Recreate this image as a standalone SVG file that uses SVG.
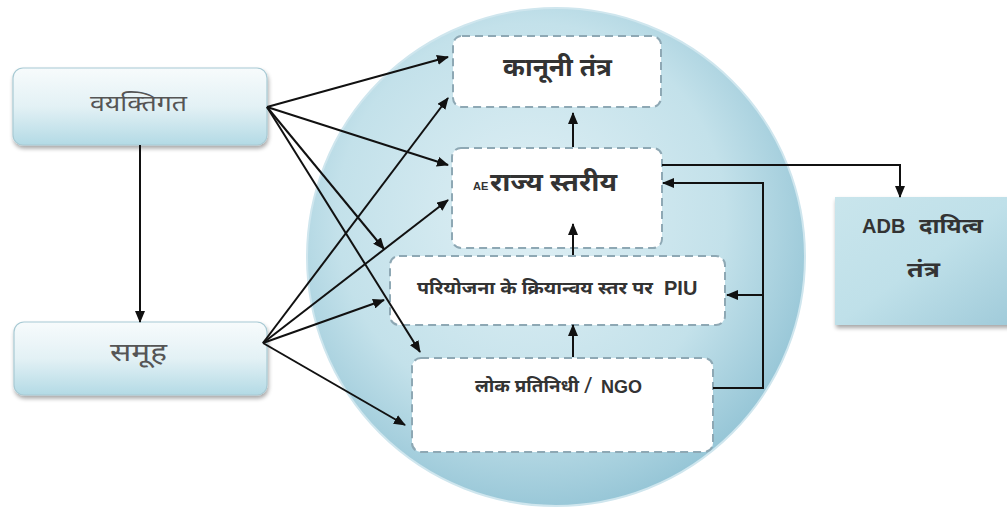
<svg xmlns="http://www.w3.org/2000/svg" width="1007" height="516" viewBox="0 0 1007 516">
  <defs>
    <radialGradient id="gCircle" cx="45%" cy="42%" r="60%">
      <stop offset="0" stop-color="#e0f0f5"/>
      <stop offset="0.65" stop-color="#c3e1ea"/>
      <stop offset="1" stop-color="#95c5d6"/>
    </radialGradient>
    <linearGradient id="gLeft" x1="0" y1="0" x2="0" y2="1">
      <stop offset="0" stop-color="#f7fbfc"/>
      <stop offset="0.5" stop-color="#e3f1f5"/>
      <stop offset="1" stop-color="#b3dae5"/>
    </linearGradient>
    <linearGradient id="gAdb" x1="0" y1="0" x2="1" y2="1">
      <stop offset="0" stop-color="#c9e5ec"/>
      <stop offset="0.5" stop-color="#bfe0e9"/>
      <stop offset="1" stop-color="#9fcad9"/>
    </linearGradient>
    <filter id="shadow" x="-10%" y="-10%" width="125%" height="130%">
      <feGaussianBlur in="SourceAlpha" stdDeviation="2"/>
      <feOffset dx="1" dy="3"/>
      <feComponentTransfer><feFuncA type="linear" slope="0.35"/></feComponentTransfer>
      <feMerge><feMergeNode/><feMergeNode in="SourceGraphic"/></feMerge>
    </filter>
    <marker id="arr" viewBox="0 0 12 10" refX="11" refY="5" markerWidth="12" markerHeight="10" markerUnits="userSpaceOnUse" orient="auto">
      <path d="M0,0 L12,5 L0,10 z" fill="#111"/>
    </marker>
  </defs>
  <style>
    .inner { fill: #ffffff; stroke: #8ea8b4; stroke-width: 2; stroke-dasharray: 8 5; }
    .leftbox { fill: url(#gLeft); stroke: #a8cad4; stroke-width: 1.2; }
    .conn { fill: none; stroke: #111; stroke-width: 2; marker-end: url(#arr); }
    .hi { font-family: "Noto Sans", "Liberation Sans", sans-serif; fill: #333; }
    .en { font-family: "Liberation Sans", Arial, sans-serif; font-weight: bold; fill: #333; }
    .gray { fill: #555; }
  </style>
  <rect width="1007" height="516" fill="#ffffff"/>

  <circle id="circle" cx="556" cy="257" r="249" fill="url(#gCircle)" stroke="#cfe6ee" stroke-width="2"/>

  <g id="node-vyaktigat">
    <rect class="leftbox" x="13" y="68" width="254" height="77" rx="10" filter="url(#shadow)"/>
    <text class="hi gray" x="90" y="111" font-size="23" textLength="97" lengthAdjust="spacingAndGlyphs">वयक्तिगत</text>
  </g>

  <g id="node-samooh">
    <rect class="leftbox" x="14" y="322" width="253" height="73" rx="10" filter="url(#shadow)"/>
    <text class="hi gray" x="110" y="361" font-size="26" textLength="57" lengthAdjust="spacingAndGlyphs">समूह</text>
  </g>

  <g id="node-kanooni">
    <rect class="inner" x="453" y="36" width="208" height="71" rx="9"/>
    <text class="hi" x="503" y="76" font-size="25" font-weight="bold" textLength="109" lengthAdjust="spacingAndGlyphs">कानूनी तंत्र</text>
  </g>

  <g id="node-rajya">
    <rect class="inner" x="452" y="148" width="210" height="100" rx="9"/>
    <text class="en" x="473" y="190" font-size="11">AE</text>
    <text class="hi" x="490" y="191" font-size="25" font-weight="bold" textLength="127" lengthAdjust="spacingAndGlyphs">राज्य  स्तरीय</text>
  </g>

  <g id="node-piu">
    <rect class="inner" x="390" y="256" width="335" height="69" rx="9"/>
    <text class="hi" x="417" y="294" font-size="18" font-weight="bold" textLength="236" lengthAdjust="spacingAndGlyphs">परियोजना के क्रियान्वय  स्तर पर</text>
    <text class="en" x="664" y="295" font-size="20">PIU</text>
  </g>

  <g id="node-ngo">
    <rect class="inner" x="412" y="358" width="301" height="94" rx="9"/>
    <text class="hi" x="475" y="392" font-size="18" font-weight="bold" textLength="104" lengthAdjust="spacingAndGlyphs">लोक प्रतिनिधी</text>
    <text class="hi" x="584" y="393" font-size="22">/</text>
    <text class="en" x="601" y="393" font-size="18">NGO</text>
  </g>

  <g id="node-adb">
    <rect x="835" y="197" width="180" height="128" fill="url(#gAdb)" filter="url(#shadow)"/>
    <text class="en" x="862" y="233" font-size="20">ADB</text>
    <text class="hi" x="919" y="233" font-size="21" font-weight="bold" textLength="64" lengthAdjust="spacingAndGlyphs">दायित्व</text>
    <text class="hi" x="907" y="277" font-size="21" font-weight="bold" textLength="33" lengthAdjust="spacingAndGlyphs">तंत्र</text>
  </g>

  <g id="connectors">
    <line class="conn" x1="140" y1="145" x2="140" y2="322"/>
    <line class="conn" x1="267" y1="107" x2="448" y2="57"/>
    <line class="conn" x1="267" y1="107" x2="448" y2="165"/>
    <line class="conn" x1="267" y1="107" x2="384" y2="249"/>
    <line class="conn" x1="267" y1="107" x2="420" y2="352"/>
    <line class="conn" x1="263" y1="343" x2="448" y2="98"/>
    <line class="conn" x1="263" y1="343" x2="448" y2="200"/>
    <line class="conn" x1="263" y1="343" x2="384" y2="300"/>
    <line class="conn" x1="263" y1="343" x2="405" y2="425"/>
    <line class="conn" x1="573" y1="147" x2="573" y2="113"/>
    <line class="conn" x1="573" y1="255" x2="573" y2="224"/>
    <line class="conn" x1="573" y1="357" x2="573" y2="325"/>
    <path class="conn" d="M662,165 H900 V197"/>
    <path class="conn" d="M713,388 H763 V183 H663"/>
    <path class="conn" d="M763,295 H727"/>
  </g>
</svg>
